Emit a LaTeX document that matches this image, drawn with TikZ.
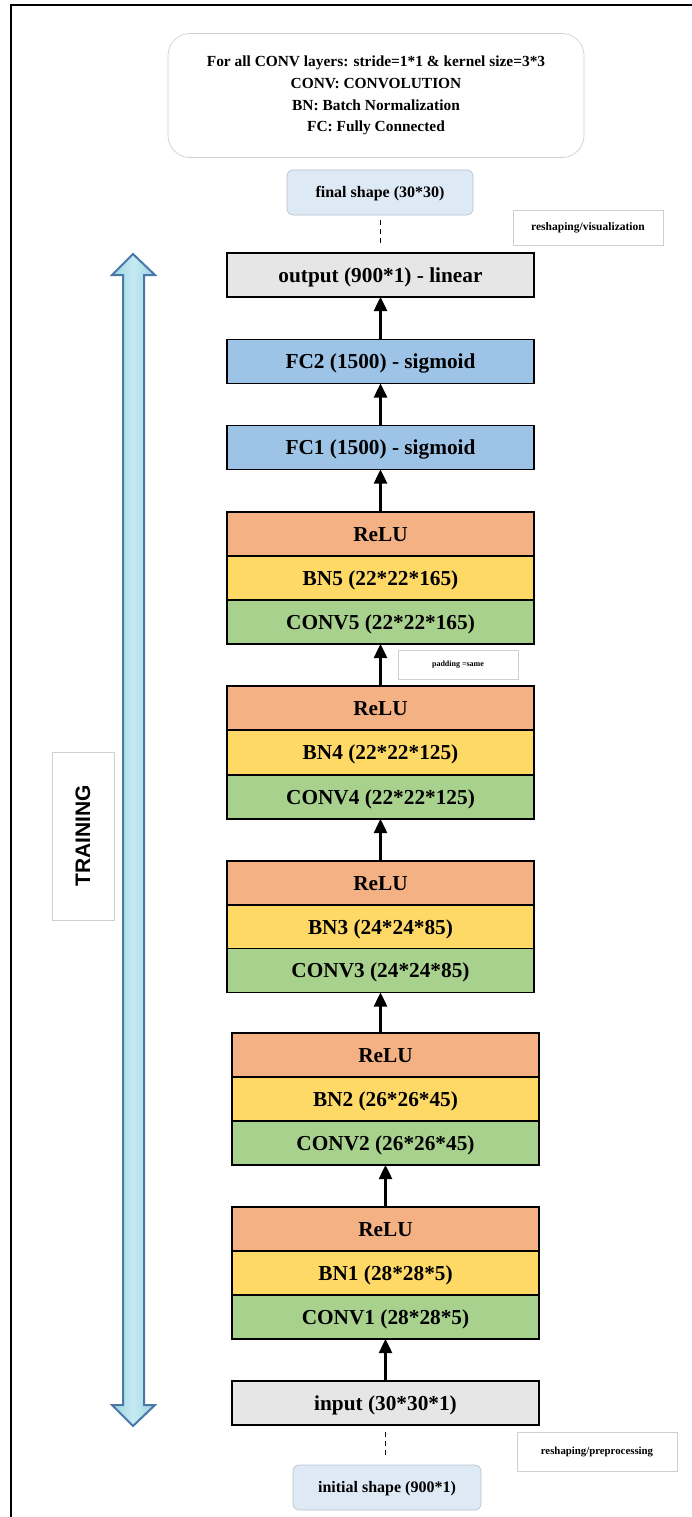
\documentclass[tikz,border=0pt]{standalone}
\usepackage{fontspec}
\setmainfont{Liberation Serif}
\newfontfamily\sansfam{Liberation Sans}
\usetikzlibrary{arrows.meta}

\definecolor{reluC}{HTML}{F4B183}
\definecolor{bnC}{HTML}{FFD966}
\definecolor{convC}{HTML}{A9D18E}
\definecolor{fcC}{HTML}{9DC3E6}
\definecolor{ioC}{HTML}{E7E6E6}
\definecolor{shapeC}{HTML}{DEE9F6}
\definecolor{shapeEdge}{HTML}{B7C3CF}
\definecolor{noteEdge}{HTML}{CFCFCF}
\definecolor{bigEdge}{HTML}{4A78A6}
\definecolor{bigA}{HTML}{9CD2E2}
\definecolor{bigB}{HTML}{C6EAF2}

\tikzset{
  layer/.style={draw=black, line width=1.1pt, minimum height=44pt, inner sep=0pt,
    outer sep=0pt, text height=14pt, text depth=0pt,
    font=\fontsize{21.3}{25}\selectfont\bfseries},
  wide/.style={minimum width=307pt},
  relu/.style={layer, fill=reluC},
  bn/.style={layer, fill=bnC},
  conv/.style={layer, fill=convC},
  fc/.style={layer, wide, fill=fcC},
  io/.style={layer, fill=ioC},
  shapebox/.style={draw=shapeEdge, line width=0.6pt, fill=shapeC, rounded corners=6pt,
    minimum height=45pt, inner sep=0pt, outer sep=0pt, text height=10.5pt, text depth=0pt,
    font=\fontsize{16}{19}\selectfont\bfseries},
  note/.style={draw=noteEdge, line width=0.7pt, fill=white, inner sep=0pt, outer sep=0pt},
  flow/.style={line width=2.5pt, -{Triangle[width=13pt,length=14pt]}},
  dashlink/.style={line width=0.8pt, dash pattern=on 5pt off 4pt},
}

\begin{document}
\begin{tikzpicture}[x=1pt, y=-1pt]
\useasboundingbox (0,0) rectangle (692,1517);

% outer frame (left and top edges)
\draw[line width=2pt] (11,1517) -- (11,5) -- (692,5);

% legend
\node[draw=noteEdge, line width=0.7pt, rounded corners=22pt, minimum width=416pt,
      minimum height=124pt, inner sep=0pt, align=center,
      font=\fontsize{15.4}{21.7}\selectfont\bfseries] (legend) at (376,95.5)
  {For all CONV layers: stride=1*1 \& kernel size=3*3\\
   CONV: CONVOLUTION\\
   BN: Batch Normalization\\
   FC: Fully Connected};

% final shape and output
\node[shapebox, minimum width=186pt] (final) at (380,192.5) {final shape (30*30)};
\node[note, minimum width=150pt, minimum height=35pt,
      font=\fontsize{11.5}{13}\selectfont\bfseries] (vis) at (588,227.5) {reshaping/visualization};
\node[io, wide] (output) at (380.5,275) {output (900*1) - linear};
\draw[dashlink, shorten <=5pt, shorten >=8pt] (final.south -| output.north) -- (output.north);

% fully connected layers
\node[fc] (fc2) at (380.5,361.5) {FC2 (1500) - sigmoid};
\node[fc] (fc1) at (380.5,447.5) {FC1 (1500) - sigmoid};

% block 5
\node[relu, wide] (relu5) at (380.5,534) {ReLU};
\node[bn, wide] (bn5) at (380.5,578) {BN5 (22*22*165)};
\node[conv, wide] (conv5) at (380.5,622) {CONV5 (22*22*165)};

% block 4
\node[relu, wide] (relu4) at (380.5,708) {ReLU};
\node[bn, wide] (bn4) at (380.5,752.5) {BN4 (22*22*125)};
\node[conv, wide] (conv4) at (380.5,797) {CONV4 (22*22*125)};

% block 3
\node[relu, wide] (relu3) at (380.5,883) {ReLU};
\node[bn, wide] (bn3) at (380.5,927) {BN3 (24*24*85)};
\node[conv, wide] (conv3) at (380.5,970.5) {CONV3 (24*24*85)};

% block 2
\node[relu, wide] (relu2) at (385.5,1055) {ReLU};
\node[bn, wide] (bn2) at (385.5,1099) {BN2 (26*26*45)};
\node[conv, wide] (conv2) at (385.5,1143) {CONV2 (26*26*45)};

% block 1
\node[relu, wide] (relu1) at (385.5,1229) {ReLU};
\node[bn, wide] (bn1) at (385.5,1273) {BN1 (28*28*5)};
\node[conv, wide] (conv1) at (385.5,1317) {CONV1 (28*28*5)};

% input and initial shape
\node[io, wide] (input) at (385.5,1403) {input (30*30*1)};
\node[shapebox, minimum width=188pt] (initial) at (387,1487.5) {initial shape (900*1)};
\node[note, minimum width=160pt, minimum height=39pt,
      font=\fontsize{10.8}{12}\selectfont\bfseries] (prep) at (597,1451.5) {reshaping/preprocessing};
\draw[dashlink, shorten <=7pt, shorten >=8pt] (input.south) -- (input.south |- initial.north);

% forward flow
\draw[flow] (input.north) -- (conv1.south);
\draw[flow] (relu1.north) -- (conv2.south);
\draw[flow] (relu2.north -| conv3.south) -- (conv3.south);
\draw[flow] (relu3.north) -- (conv4.south);
\draw[flow] (relu4.north) -- (conv5.south);
\draw[flow] (relu5.north) -- (fc1.south);
\draw[flow] (fc1.north) -- (fc2.south);
\draw[flow] (fc2.north) -- (output.south);

% padding note
\node[note, minimum width=120pt, minimum height=29pt,
      font=\fontsize{8}{10}\selectfont\bfseries] (pad) at (458,664.5) {padding =same};

% training double arrow
\path[draw=bigEdge, line width=2pt, line join=miter, left color=bigA, right color=bigA, middle color=bigB]
  (133,254) -- (155,275) -- (144,275) -- (144,1405) -- (155,1405) -- (133,1426)
  -- (112,1405) -- (123,1405) -- (123,275) -- (112,275) -- cycle;

% training label
\node[draw=noteEdge, line width=0.7pt, fill=white, minimum width=62pt, minimum height=168pt,
      inner sep=0pt] (trainbox) at (83,836) {};
\node[rotate=90, font=\sansfam\fontsize{21}{24}\selectfont\bfseries] (train) at (trainbox.center) {TRAINING};
\end{tikzpicture}
\end{document}
